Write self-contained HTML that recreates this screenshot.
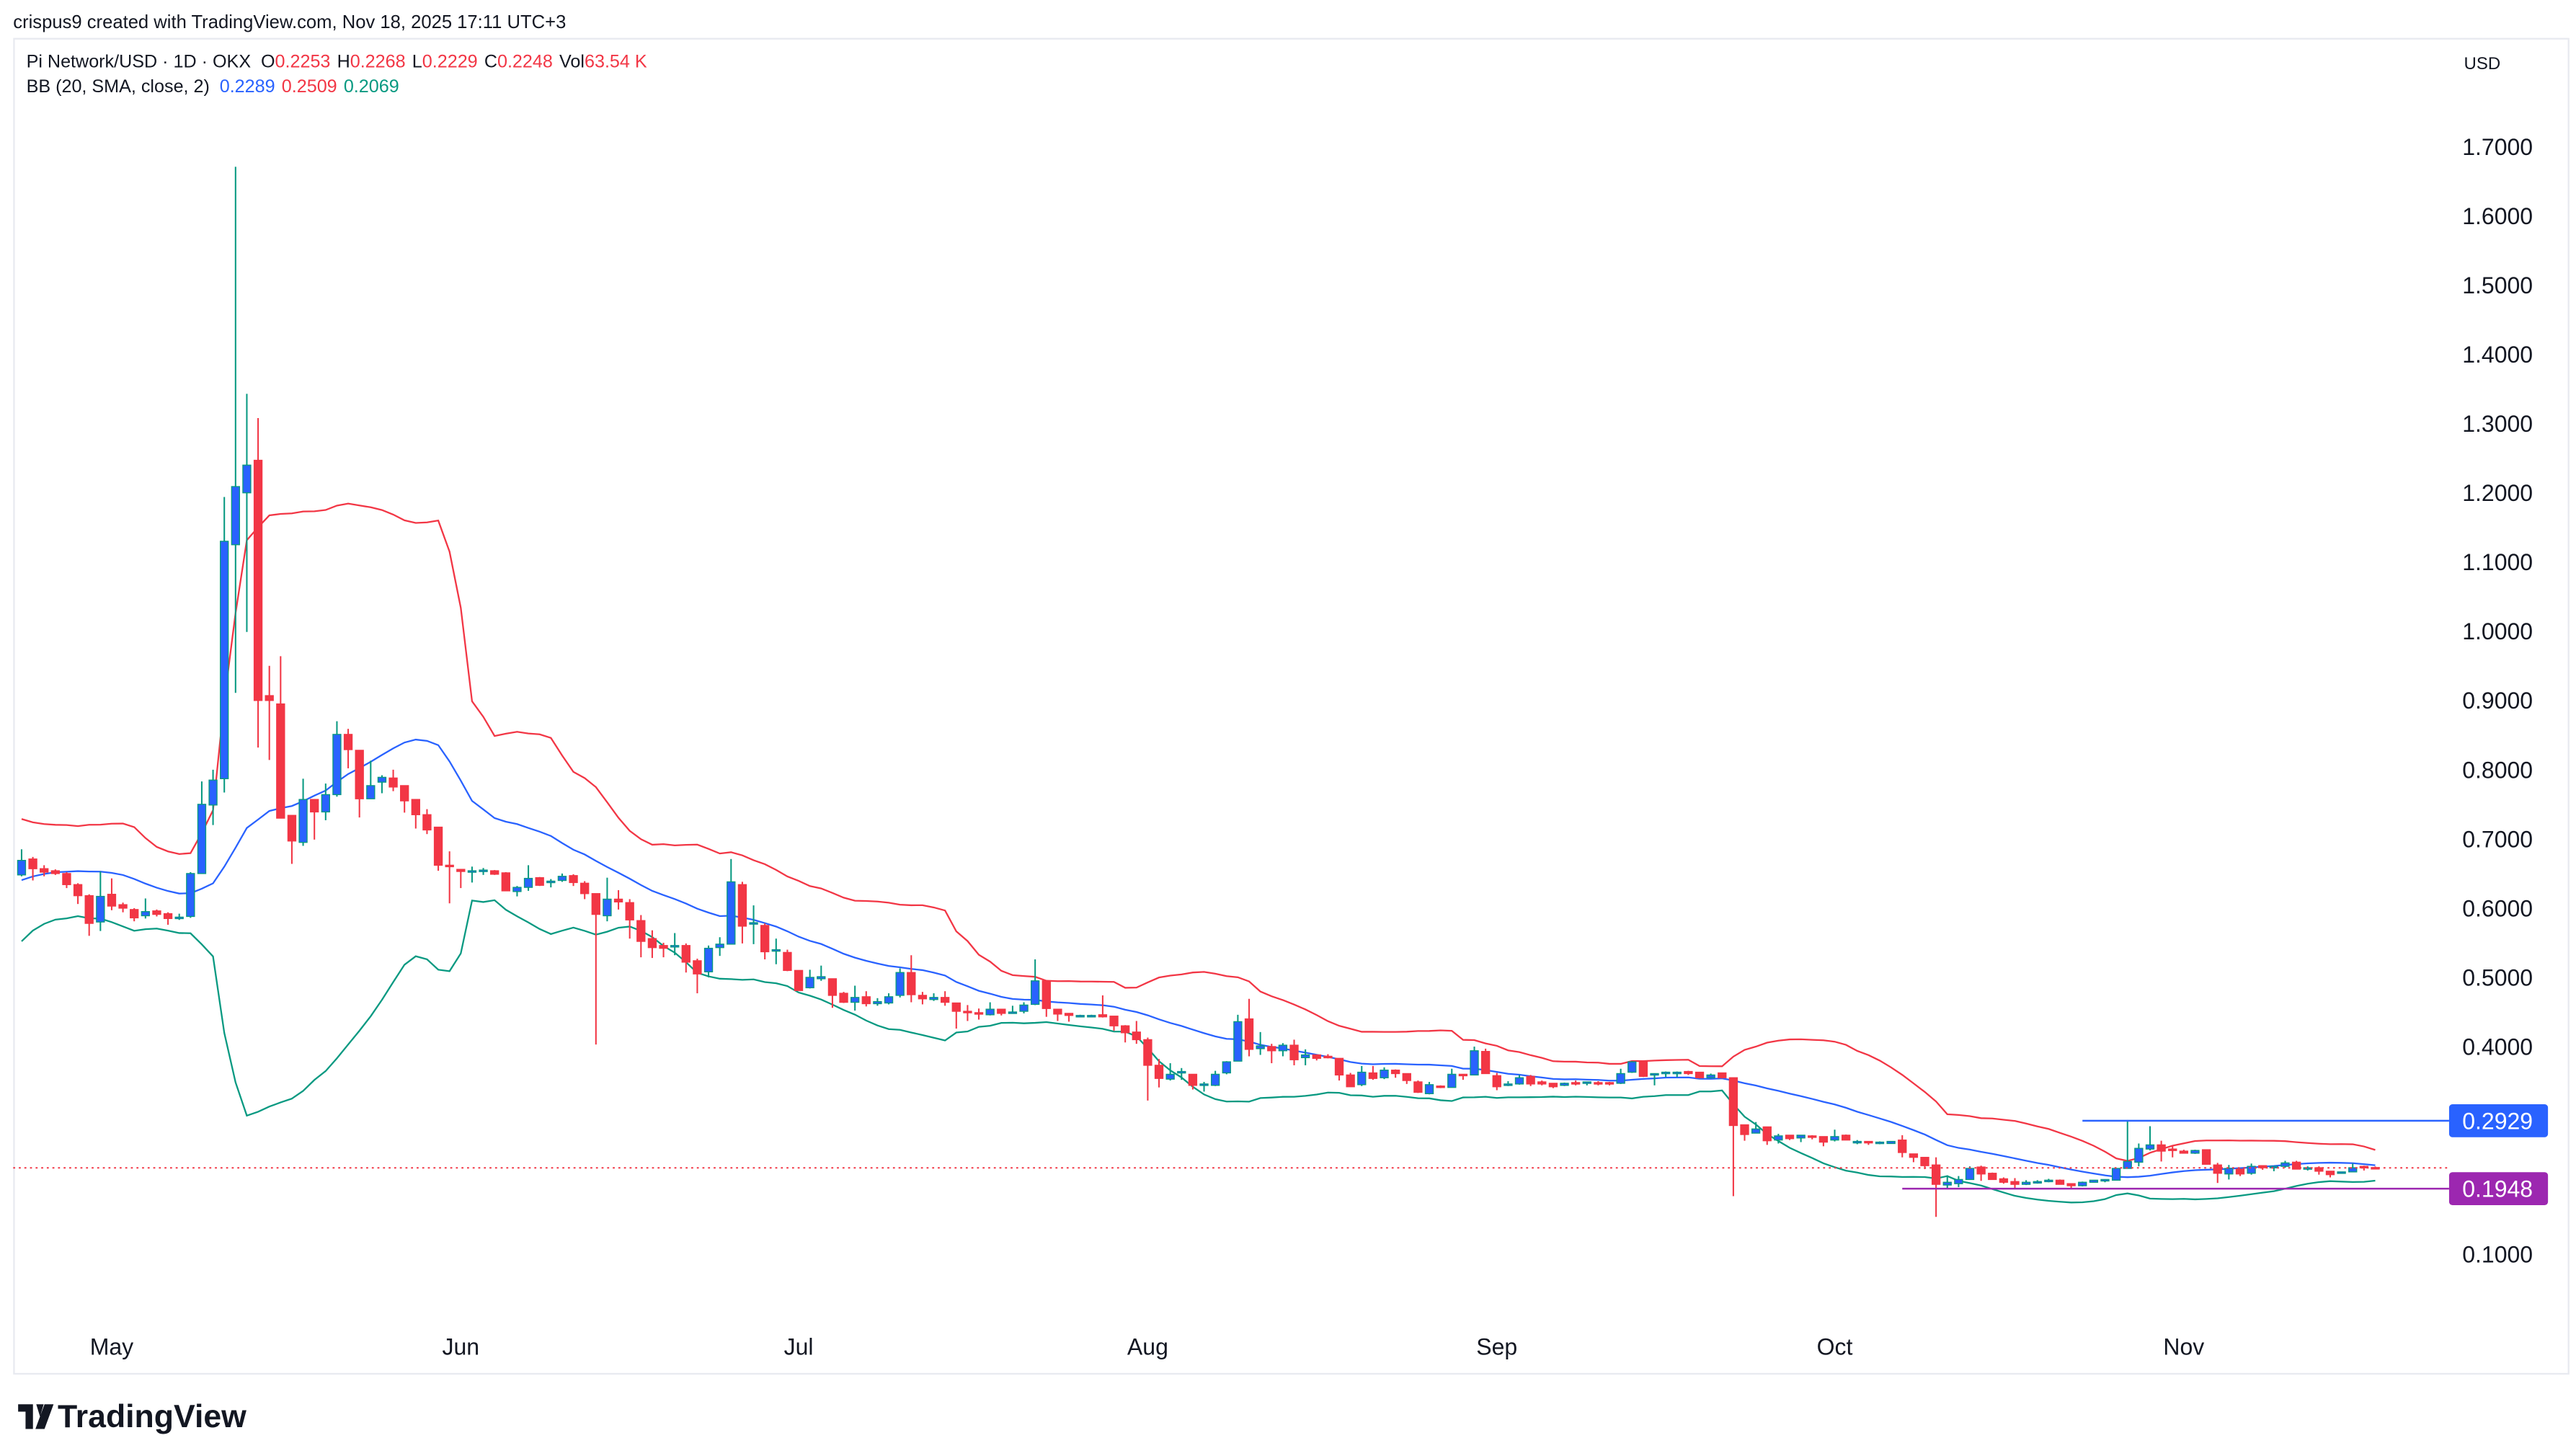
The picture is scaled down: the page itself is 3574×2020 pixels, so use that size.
<!DOCTYPE html>
<html><head><meta charset="utf-8"><title>Pi Network/USD chart</title>
<style>html,body{margin:0;padding:0;background:#fff}svg{display:block}text{font-family:"Liberation Sans",sans-serif}</style>
</head><body>
<svg id="chart" xmlns="http://www.w3.org/2000/svg" width="3574" height="2020" viewBox="0 0 1563 883.4" preserveAspectRatio="none">
<rect x="0" y="0" width="1563" height="883.4" fill="#ffffff"/>
<text x="8" y="17" font-size="11.2" fill="#131722">crispus9 created with TradingView.com, Nov 18, 2025 17:11 UTC+3</text>
<rect x="8.5" y="23.5" width="1550" height="810" fill="none" stroke="#e8eaf0" stroke-width="1"/>
<text x="16" y="41" font-size="11" fill="#131722">Pi Network/USD · 1D · OKX <tspan dx="3">O</tspan><tspan fill="#f23645">0.2253</tspan><tspan dx="4">H</tspan><tspan fill="#f23645">0.2268</tspan><tspan dx="4">L</tspan><tspan fill="#f23645">0.2229</tspan><tspan dx="4">C</tspan><tspan fill="#f23645">0.2248</tspan><tspan dx="4">Vol</tspan><tspan fill="#f23645">63.54 K</tspan></text>
<text x="16" y="56" font-size="11" fill="#131722">BB (20, SMA, close, 2) <tspan dx="3" fill="#2962ff">0.2289</tspan><tspan dx="4" fill="#f23645">0.2509</tspan><tspan dx="4" fill="#089981">0.2069</tspan></text>
<text x="1495" y="42" font-size="10.5" fill="#131722">USD</text>
<g id="grid"></g><g id="bands"></g><g id="candles"></g><g id="overlays"></g><g id="axes"></g>
<g>
<path d="M11 852 h9 v15 h-4.5 v-10.5 h-4.5z M22 852 h4.5 l-2.2 7.5z M27 852 h5.5 l-5.5 15 h-5.5z" fill="#131722"/>
<text x="35" y="866" font-size="19.5" font-weight="bold" fill="#131722">TradingView</text>
</g>
</svg>
<script>
const O=[.648,.671,.657,.654,.650,.634,.618,.580,.620,.605,.598,.589,.596,.592,.586,.588,.650,.749,.787,1.125,1.200,1.247,.907,.895,.734,.695,.757,.739,.764,.851,.828,.758,.782,.788,.777,.757,.735,.717,.662,.656,.653,.654,.654,.651,.624,.630,.644,.637,.640,.647,.636,.621,.589,.613,.608,.582,.556,.546,.545,.546,.524,.508,.543,.548,.634,.578,.575,.539,.536,.510,.485,.498,.498,.477,.464,.472,.462,.463,.474,.507,.474,.468,.471,.463,.451,.449,.446,.454,.449,.451,.461,.495,.454,.448,.444,.445,.446,.444,.430,.421,.410,.373,.353,.363,.360,.345,.344,.362,.379,.440,.397,.400,.394,.402,.384,.388,.386,.383,.359,.345,.362,.355,.366,.361,.349,.332,.343,.341,.360,.359,.393,.358,.345,.346,.357,.349,.347,.344,.348,.348,.348,.348,.347,.363,.378,.360,.361,.362,.364,.363,.355,.362,.355,.287,.275,.284,.265,.272,.268,.271,.270,.265,.272,.261,.263,.261,.260,.265,.245,.240,.229,.200,.202,.208,.226,.217,.209,.205,.201,.204,.206,.207,.202,.199,.204,.207,.207,.224,.233,.252,.258,.252,.249,.246,.251,.229,.216,.223,.217,.228,.226,.227,.233,.224,.225,.220,.218,.219,.227,.2253];
const H=[.685,.674,.662,.656,.652,.636,.620,.653,.643,.608,.600,.614,.598,.594,.592,.652,.783,.800,1.194,1.671,1.343,1.308,.950,.964,.734,.787,.757,.780,.870,.859,.828,.813,.792,.800,.777,.757,.743,.717,.682,.656,.660,.658,.655,.652,.632,.662,.645,.642,.650,.649,.639,.621,.644,.626,.613,.590,.568,.550,.564,.549,.527,.546,.558,.671,.638,.604,.578,.556,.540,.510,.511,.517,.498,.479,.488,.480,.470,.477,.513,.532,.479,.477,.480,.463,.460,.455,.464,.454,.459,.464,.526,.495,.454,.448,.446,.446,.474,.444,.431,.437,.413,.382,.376,.369,.360,.349,.365,.379,.446,.469,.421,.404,.405,.410,.396,.388,.389,.383,.362,.372,.372,.370,.367,.361,.351,.349,.344,.368,.360,.400,.397,.362,.350,.359,.359,.351,.347,.348,.351,.349,.350,.349,.368,.379,.379,.361,.364,.364,.365,.363,.361,.362,.355,.287,.291,.284,.274,.272,.272,.272,.270,.280,.273,.265,.263,.263,.263,.272,.245,.240,.240,.214,.213,.227,.228,.218,.211,.210,.207,.207,.209,.208,.202,.205,.207,.208,.224,.293,.260,.285,.264,.256,.251,.251,.251,.232,.229,.223,.231,.228,.227,.235,.235,.227,.227,.220,.219,.231,.228,.2268];
const L=[.646,.640,.646,.648,.629,.606,.560,.567,.597,.594,.581,.585,.588,.576,.583,.586,.650,.720,.767,.911,.999,.832,.814,.730,.664,.690,.699,.727,.761,.802,.731,.758,.766,.769,.738,.715,.707,.654,.607,.629,.637,.648,.648,.625,.617,.625,.632,.630,.638,.632,.613,.403,.581,.598,.556,.529,.528,.529,.532,.507,.477,.500,.531,.548,.549,.548,.526,.519,.509,.481,.484,.495,.456,.463,.452,.458,.459,.461,.471,.464,.461,.466,.459,.426,.437,.439,.445,.445,.449,.448,.460,.443,.437,.436,.443,.443,.442,.423,.406,.404,.322,.341,.351,.352,.338,.335,.343,.360,.379,.386,.388,.376,.386,.373,.373,.380,.383,.351,.342,.343,.352,.353,.355,.346,.333,.331,.340,.341,.352,.359,.361,.337,.343,.345,.343,.344,.340,.343,.344,.344,.344,.344,.346,.362,.356,.344,.356,.356,.359,.354,.354,.354,.184,.264,.275,.258,.260,.265,.262,.266,.256,.263,.265,.259,.258,.259,.260,.240,.233,.223,.154,.194,.197,.208,.206,.208,.202,.194,.200,.202,.204,.201,.195,.198,.204,.204,.207,.224,.227,.250,.234,.240,.246,.245,.230,.203,.208,.213,.215,.222,.220,.225,.223,.221,.215,.211,.218,.219,.221,.2229];
const C=[.669,.657,.652,.650,.634,.618,.578,.617,.603,.600,.586,.595,.591,.585,.587,.650,.750,.785,1.130,1.209,1.240,.900,.900,.730,.697,.757,.739,.764,.851,.829,.758,.777,.789,.775,.755,.735,.713,.662,.660,.653,.654,.655,.649,.625,.630,.643,.633,.639,.646,.637,.621,.591,.613,.609,.583,.552,.543,.542,.546,.522,.505,.542,.548,.638,.574,.579,.537,.540,.510,.481,.500,.501,.474,.464,.471,.462,.465,.472,.507,.475,.469,.471,.464,.451,.450,.448,.454,.448,.450,.460,.495,.455,.447,.445,.445,.445,.443,.430,.420,.410,.373,.354,.360,.364,.344,.346,.360,.378,.436,.396,.401,.394,.402,.381,.388,.383,.384,.359,.342,.363,.354,.366,.361,.351,.334,.345,.341,.360,.358,.394,.361,.342,.346,.355,.346,.346,.342,.347,.346,.349,.346,.346,.361,.378,.357,.361,.363,.363,.361,.355,.359,.355,.286,.273,.281,.264,.271,.267,.272,.270,.262,.270,.265,.263,.262,.262,.263,.247,.240,.228,.201,.204,.208,.224,.216,.208,.204,.201,.204,.205,.207,.201,.199,.204,.207,.208,.224,.234,.253,.258,.249,.251,.246,.250,.230,.217,.224,.216,.227,.225,.227,.232,.223,.225,.220,.215,.219,.225,.225,.2248];
const PRE_CLOSES=[.55,.58,.60,.62,.60,.59,.62,.64,.66,.70,.73,.71,.68,.66,.64,.62,.63,.65,.66];
const PRICE_TICKS=[0.1,0.4,0.5,0.6,0.7,0.8,0.9,1.0,1.1,1.2,1.3,1.4,1.5,1.6,1.7];
const MONTH_LABELS=["May","Jun","Jul","Aug","Sep","Oct","Nov"];
const MONTH_START_INDEX=[8,39,69,100,131,161,192];
const LAST_PRICE=[0.2248];
const RESIST_LEVEL=[0.2929];
const SUPPORT_LEVEL=[0.1948];
const RESIST_START=[183];
const SUPPORT_START=[167];

const NS="http://www.w3.org/2000/svg";
const y=p=>761-(p-0.1)*420;
const x=i=>13.1+i*6.833;
function mk(tag,attrs,parent){const e=document.createElementNS(NS,tag);for(const k in attrs)e.setAttribute(k,attrs[k]);parent.appendChild(e);return e;}
const gB=document.getElementById('bands'),gC=document.getElementById('candles'),gO=document.getElementById('overlays'),gA=document.getElementById('axes');

const all=PRE_CLOSES.concat(C);const up=[],mid=[],lo=[];
for(let i=0;i<C.length;i++){const w=all.slice(i,i+20);const m=w.reduce((a,b)=>a+b,0)/20;const sd=Math.sqrt(w.reduce((a,b)=>a+(b-m)*(b-m),0)/20);mid.push(m);up.push(m+2*sd);lo.push(m-2*sd);}
[[up,'#f23645','bb-upper-band'],[mid,'#2962ff','bb-basis-line'],[lo,'#089981','bb-lower-band']].forEach(([arr,col,nm])=>{
  const p=mk('polyline',{points:arr.map((v,i)=>x(i).toFixed(2)+','+y(v).toFixed(2)).join(' '),fill:'none',stroke:col,'stroke-width':1},gB);
  
  
});

for(let i=0;i<C.length;i++){
  const bull=C[i]>=O[i];const g=mk('g',{},gC);
  
  
  const wc=bull?'#089981':'#f23645';
  mk('line',{x1:x(i),x2:x(i),y1:y(H[i]),y2:y(L[i]),stroke:wc,'stroke-width':0.9},g);
  const top=y(Math.max(O[i],C[i])),bot=y(Math.min(O[i],C[i]));
  mk('rect',{x:x(i)-2.4,y:top,width:4.8,height:Math.max(bot-top,0.9),fill:bull?'#2962ff':'#f23645',stroke:wc,'stroke-width':0.6},g);
}

const lp=mk('line',{x1:8,x2:1486,y1:y(LAST_PRICE[0]),y2:y(LAST_PRICE[0]),stroke:'#f23645','stroke-width':0.9,'stroke-dasharray':'1.2 2.2'},gO);


const rl=mk('line',{x1:x(RESIST_START[0]),x2:1486,y1:y(RESIST_LEVEL[0]),y2:y(RESIST_LEVEL[0]),stroke:'#2962ff','stroke-width':1.1},gO);


const sl=mk('line',{x1:x(SUPPORT_START[0]),x2:1486,y1:y(SUPPORT_LEVEL[0]),y2:y(SUPPORT_LEVEL[0]),stroke:'#9c27b0','stroke-width':1.1},gO);



PRICE_TICKS.forEach(v=>{const t=mk('text',{x:1494,y:y(v)+5,'font-size':14,fill:'#131722'},gA);t.textContent=v.toFixed(4);
  
  
});
[[RESIST_LEVEL[0],'#2962ff','resistance-price-tag'],[SUPPORT_LEVEL[0],'#9c27b0','support-price-tag']].forEach(([v,col,nm])=>{
  const g=mk('g',{},gA);
  
  
  mk('rect',{x:1486,y:y(v)-10,width:60,height:20,rx:2,fill:col},g);
  const t=mk('text',{x:1494,y:y(v)+5,'font-size':14,fill:'#ffffff'},g);t.textContent=v.toFixed(4);
});
MONTH_LABELS.forEach((m,k)=>{const t=mk('text',{x:x(MONTH_START_INDEX[k]),y:822,'font-size':14,'text-anchor':'middle',fill:'#131722'},gA);t.textContent=m;
  
  
});
</script>
</body></html>
